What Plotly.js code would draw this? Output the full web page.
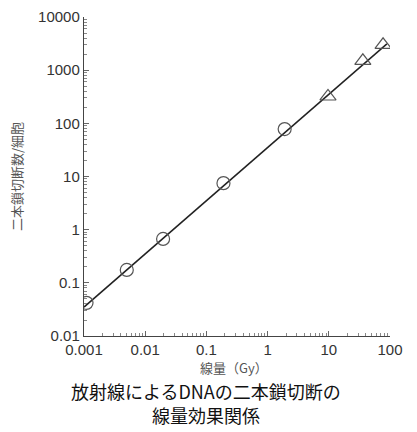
<!DOCTYPE html>
<html><head><meta charset="utf-8">
<script src="https://cdn.plot.ly/plotly-3.0.1.min.js"></script>
<style>body{margin:0;background:#fff}#c{width:417px;height:432px}</style>
</head><body><div id="c"></div>
<script>
const circleDose = [0.0011, 0.005, 0.0196, 0.19, 1.9];
const circleBreaks = [0.042, 0.175, 0.67, 7.5, 78];
const triDose = [9.7, 36, 77];
const triBreaks = [320, 1500, 3000];
const fitDose = [0.001, 89];
const fitBreaks = [0.035, 3115];
const xTickVals = [0.001, 0.01, 0.1, 1, 10, 100];
const xTickText = ['0.001', '0.01', '0.1', '1', '10', '100'];
const yTickVals = [0.01, 0.1, 1, 10, 100, 1000, 10000];
const yTickText = ['0.01', '0.1', '1', '10', '100', '1000', '10000'];

const FONT = 'Arial, Liberation Sans, sans-serif';
const JP = 'Noto Sans CJK JP, sans-serif';
const gray = '#555';

const data = [
  {x: fitDose, y: fitBreaks, mode: 'lines', line: {color: '#222', width: 1.5}, hoverinfo: 'skip'},
  {x: circleDose, y: circleBreaks, mode: 'markers',
   marker: {symbol: 'circle-open', size: 13, color: gray, line: {width: 1.2, color: gray}}},
  {x: triDose, y: triBreaks, mode: 'markers',
   marker: {symbol: 'triangle-up-open', size: 14, color: gray, line: {width: 1.2, color: gray}}}
];

const axisCommon = {
  type: 'log', showgrid: false, zeroline: false, showline: true, linecolor: '#444', linewidth: 1.2,
  ticks: 'inside', ticklen: 5, tickcolor: '#666', tickmode: 'array',
  tickfont: {family: FONT, size: 15, color: '#333'},
  minor: {ticks: 'inside', ticklen: 3, tickcolor: '#888', dtick: 'D1', showgrid: false}
};

const H = 432 - 17 - 96;
const py = (pix) => -(pix - 336) / H;

const layout = {
  width: 417, height: 432,
  margin: {l: 84, r: 27, t: 17, b: 96},
  showlegend: false,
  paper_bgcolor: '#fff', plot_bgcolor: '#fff',
  xaxis: Object.assign({}, axisCommon, {range: [-3, 2], tickvals: xTickVals, ticktext: xTickText}),
  yaxis: Object.assign({}, axisCommon, {range: [-2, 4], tickvals: yTickVals, ticktext: yTickText,
    title: {text: '二本鎖切断数/細胞', font: {family: JP, size: 13, color: '#555'}, standoff: 12}}),
  annotations: [
    {text: '線量（Gy）', font: {family: JP, size: 13, color: '#555'},
     xref: 'paper', yref: 'paper', x: 0.49, xanchor: 'center', y: py(367), yanchor: 'middle', showarrow: false},
    {text: '放射線によるDNAの二本鎖切断の', font: {family: JP, size: 18, color: '#111'},
     xref: 'paper', yref: 'paper', x: 0.4, xanchor: 'center', y: py(391), yanchor: 'middle', showarrow: false},
    {text: '線量効果関係', font: {family: JP, size: 18, color: '#111'},
     xref: 'paper', yref: 'paper', x: 0.4, xanchor: 'center', y: py(415), yanchor: 'middle', showarrow: false}
  ]
};

Plotly.newPlot('c', data, layout, {displayModeBar: false, staticPlot: true});
</script>
</body></html>
